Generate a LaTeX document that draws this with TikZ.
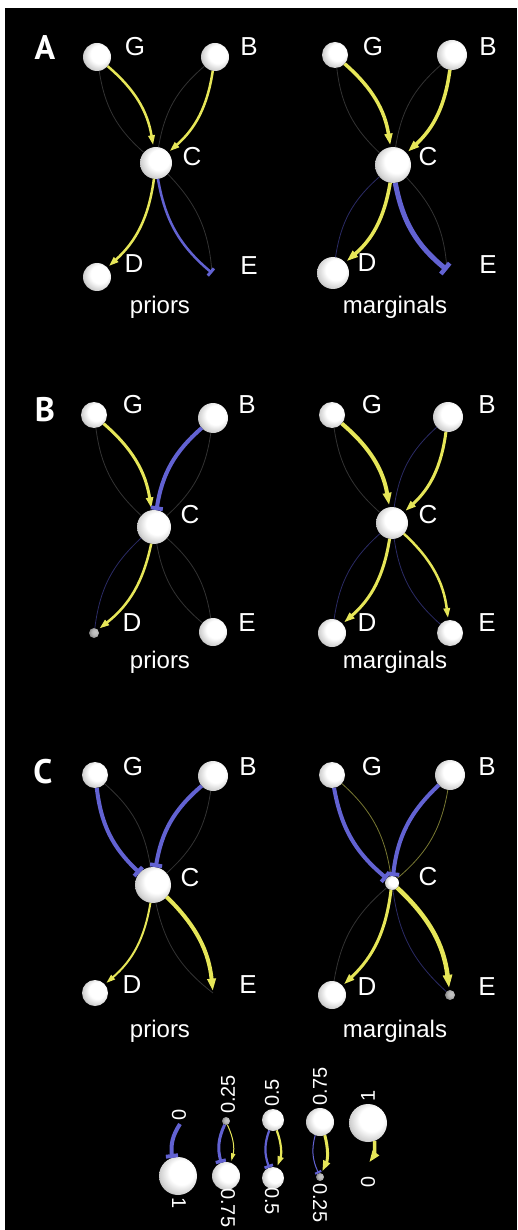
\documentclass[tikz,border=0pt]{standalone}
\usepackage{fontspec}
\setmainfont{Liberation Sans}
\newfontfamily\panelfont{PT Sans}
\usetikzlibrary{arrows.meta}

\definecolor{ylw}{RGB}{230,230,88}
\definecolor{blu}{RGB}{98,98,210}
\definecolor{fgray}{RGB}{50,50,50}
\definecolor{fblue}{RGB}{42,42,100}
\definecolor{folive}{RGB}{120,120,50}

% shaded spheres, lit from the upper right
\pgfdeclareradialshading{sphere}{\pgfpoint{7bp}{7bp}}{%
  color(0bp)=(white); color(16bp)=(white); color(27bp)=(black!18);
  color(36bp)=(black!48); color(50bp)=(black!70)}
\pgfdeclareradialshading{dimsphere}{\pgfpoint{7bp}{7bp}}{%
  color(0bp)=(black!22); color(15bp)=(black!28); color(27bp)=(black!45);
  color(36bp)=(black!62); color(50bp)=(black!75)}

\tikzset{
  ball/.style={circle, minimum size=#1, inner sep=0pt, outer sep=0pt, shade, shading=sphere},
  dimball/.style={circle, minimum size=#1, inner sep=0pt, outer sep=0pt, shade, shading=dimsphere},
  lbl/.style={text=white, font=\fontsize{26}{26}\selectfont, inner sep=0pt},
  captxt/.style={text=white, font=\fontsize{24}{24}\selectfont, anchor=base, inner sep=0pt},
  paneltxt/.style={text=white, font=\panelfont\bfseries\fontsize{34}{34}\selectfont, inner sep=0pt},
  legtxt/.style={text=white, font=\fontsize{20}{20}\selectfont, inner sep=0pt, anchor=west},
  act/.style={draw=ylw, line width=#1, bend left=20, shorten >=2pt,
    -{Triangle[length=6pt 1.6, width=3pt 1.3]}},
  inh/.style={draw=blu, line width=#1, bend right=20, -{Rectangle[length=1.5pt 0.6, width=5pt 1.8]}},
  actf/.style={draw=#1, line width=0.8pt, bend left=20},
  inhf/.style={draw=#1, line width=0.8pt, bend right=20},
}

\begin{document}
\begin{tikzpicture}[x=1pt,y=1pt]
\useasboundingbox (0,0) rectangle (517,-1230);
\fill[white] (0,0) rectangle (517,-1230);
\fill[black] (5,-8) rectangle (517,-1230);

% ---------- A ----------
\node[paneltxt] (tA) at (45,-48) {A};
% priors
\node[ball=28] (aG) at (97,-57) {};
\node[ball=28] (aB) at (215,-57) {};
\node[ball=32] (aC) at (156,-163) {};
\node[ball=28] (aD) at (97,-277) {};
\coordinate (aE) at (212,-273);
\draw[inhf=fgray] (aG) to (aC);
\draw[inhf=fgray] (aB) to (aC);
\draw[actf=fgray] (aC) to (aE);
\draw[act=2.5] (aG) to (aC);
\draw[act=2.5] (aB) to (aC);
\draw[act=2.5] (aC) to (aD);
\draw[inh=2.5] (aC) to (aE);
\node[lbl] (aGl) at (135,-47) {G};
\node[lbl] (aBl) at (249,-47) {B};
\node[lbl] (aCl) at (192,-157) {C};
\node[lbl] (aDl) at (134,-264) {D};
\node[lbl] (aEl) at (249,-266) {E};
\node[captxt] (aP) at (160,-313) {priors};
% marginals
\node[ball=26] (AG) at (335,-55) {};
\node[ball=30] (AB) at (452,-55) {};
\node[ball=36] (AC) at (393,-165) {};
\node[ball=32] (AD) at (333,-273) {};
\coordinate (AE) at (447,-270);
\draw[inhf=fgray] (AG) to (AC);
\draw[inhf=fgray] (AB) to (AC);
\draw[inhf=fblue] (AC) to (AD);
\draw[actf=fgray] (AC) to (AE);
\draw[act=3.5] (AG) to (AC);
\draw[act=3.5] (AB) to (AC);
\draw[act=3.5] (AC) to (AD);
\draw[inh=5] (AC) to (AE);
\node[lbl] (AGl) at (373,-47) {G};
\node[lbl] (ABl) at (488,-47) {B};
\node[lbl] (ACl) at (428,-157) {C};
\node[lbl] (ADl) at (367,-263) {D};
\node[lbl] (AEl) at (488,-265) {E};
\node[captxt] (AM) at (395,-313) {marginals};

% ---------- B ----------
\node[paneltxt] (tB) at (45,-410) {B};
% priors
\node[ball=26] (bG) at (94,-415) {};
\node[ball=30] (bB) at (213,-418) {};
\node[ball=34] (bC) at (154,-527) {};
\node[dimball=10] (bD) at (94,-633) {};
\node[ball=28] (bE) at (213,-632) {};
\draw[inhf=fgray] (bG) to (bC);
\draw[actf=fgray] (bB) to (bC);
\draw[inhf=fblue] (bC) to (bD);
\draw[actf=fgray] (bC) to (bE);
\draw[inhf=fgray] (bC) to (bE);
\draw[act=3] (bG) to (bC);
\draw[inh=4] (bB) to (bC);
\draw[act=2.5] (bC) to (bD);
\node[lbl] (bGl) at (133,-405) {G};
\node[lbl] (bBl) at (247,-405) {B};
\node[lbl] (bCl) at (190,-515) {C};
\node[lbl] (bDl) at (132,-623) {D};
\node[lbl] (bEl) at (247,-623) {E};
\node[captxt] (bP) at (160,-668) {priors};
% marginals
\node[ball=26] (BG) at (332,-415) {};
\node[ball=30] (BB) at (448,-417) {};
\node[ball=32] (BC) at (392,-523) {};
\node[ball=28] (BD) at (332,-633) {};
\node[ball=26] (BE) at (450,-633) {};
\draw[inhf=fgray] (BG) to (BC);
\draw[inhf=fblue] (BB) to (BC);
\draw[inhf=fblue] (BC) to (BD);
\draw[inhf=fblue] (BC) to (BE);
\draw[act=4] (BG) to (BC);
\draw[act=3] (BB) to (BC);
\draw[act=3] (BC) to (BD);
\draw[act=2.5] (BC) to (BE);
\node[lbl] (BGl) at (372,-405) {G};
\node[lbl] (BBl) at (487,-405) {B};
\node[lbl] (BCl) at (428,-515) {C};
\node[lbl] (BDl) at (367,-623) {D};
\node[lbl] (BEl) at (487,-623) {E};
\node[captxt] (BM) at (395,-668) {marginals};

% ---------- C ----------
\node[paneltxt] (tC) at (43,-772) {C};
% priors
\node[ball=26] (cG) at (95,-775) {};
\node[ball=30] (cB) at (213,-776) {};
\node[ball=36] (cC) at (153,-885) {};
\node[ball=26] (cD) at (95,-993) {};
\coordinate (cE) at (213,-993);
\draw[actf=fgray] (cG) to (cC);
\draw[actf=fgray] (cB) to (cC);
\draw[inhf=fgray] (cC) to (cE);
\draw[inh=4] (cG) to (cC);
\draw[inh=4] (cB) to (cC);
\draw[act=2] (cC) to (cD);
\draw[act=4] (cC) to (cE);
\node[lbl] (cGl) at (133,-767) {G};
\node[lbl] (cBl) at (248,-767) {B};
\node[lbl] (cCl) at (190,-878) {C};
\node[lbl] (cDl) at (132,-985) {D};
\node[lbl] (cEl) at (248,-985) {E};
\node[captxt] (cP) at (160,-1037) {priors};
% marginals
\node[ball=26] (CG) at (332,-775) {};
\node[ball=30] (CB) at (450,-775) {};
\node[ball=14] (CC) at (392,-883) {};
\node[ball=28] (CD) at (332,-995) {};
\node[dimball=10] (CE) at (450,-995) {};
\draw[actf=folive] (CG) to (CC);
\draw[actf=folive] (CB) to (CC);
\draw[inhf=fgray] (CC) to (CD);
\draw[inhf=fblue] (CC) to (CE);
\draw[inh=4] (CG) to (CC);
\draw[inh=4] (CB) to (CC);
\draw[act=3] (CC) to (CD);
\draw[act=4.5] (CC) to (CE);
\node[lbl] (CGl) at (372,-767) {G};
\node[lbl] (CBl) at (487,-767) {B};
\node[lbl] (CCl) at (428,-877) {C};
\node[lbl] (CDl) at (367,-987) {D};
\node[lbl] (CEl) at (487,-987) {E};
\node[captxt] (CM) at (395,-1037) {marginals};

% ---------- legend: edge weight against node value ----------
\coordinate (l1t) at (180,-1124);
\node[ball=38] (l1b) at (178,-1176) {};
\node[dimball=8] (l2t) at (226,-1121) {};
\node[ball=28] (l2b) at (226,-1176) {};
\node[ball=22] (l3t) at (273,-1120) {};
\node[ball=22] (l3b) at (273,-1178) {};
\node[ball=28] (l4t) at (320,-1122) {};
\node[dimball=8] (l4b) at (320,-1177) {};
\node[ball=38] (l5t) at (368,-1123) {};
\coordinate (l5b) at (368,-1164);
\draw[inh=4] (l1t) to (l1b);
\draw[act=1] (l2t) to (l2b);
\draw[inh=3] (l2t) to (l2b);
\draw[act=2.2] (l3t) to (l3b);
\draw[inh=2.2] (l3t) to (l3b);
\draw[inh=1] (l4t) to (l4b);
\draw[act=3] (l4t) to (l4b);
\draw[act=3.5] (l5t) to (l5b);
\node[legtxt, rotate=90] (v1t) at (179,-1121) {0};
\node[legtxt, rotate=-90] (v1b) at (179,-1197) {1};
\node[legtxt, rotate=90] (v2t) at (228,-1114) {0.25};
\node[legtxt, rotate=-90] (v2b) at (228,-1188) {0.75};
\node[legtxt, rotate=90] (v3t) at (272,-1107) {0.5};
\node[legtxt, rotate=-90] (v3b) at (272,-1187) {0.5};
\node[legtxt, rotate=90] (v4t) at (320,-1106) {0.75};
\node[legtxt, rotate=-90] (v4b) at (320,-1183) {0.25};
\node[legtxt, rotate=90] (v5t) at (368,-1102) {1};
\node[legtxt, rotate=-90] (v5b) at (368,-1176) {0};
\end{tikzpicture}
\end{document}
